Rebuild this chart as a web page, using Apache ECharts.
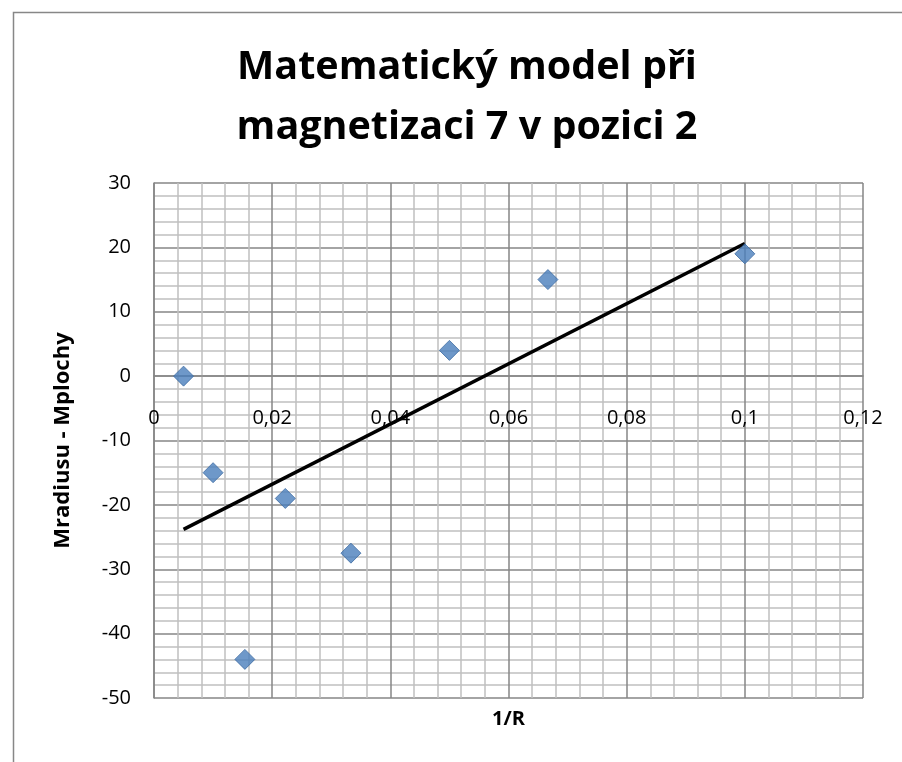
<!DOCTYPE html>
<html><head><meta charset="utf-8">
<script src="https://cdn.jsdelivr.net/npm/echarts@6/dist/echarts.min.js"></script>
<style>html,body{margin:0;padding:0;background:#fff}#c{width:902px;height:762px}</style>
</head><body><div id="c"></div>
<script>
const titleText = 'Matematický model při\nmagnetizaci 7 v pozici 2';
const xAxisName = '1/R';
const yAxisName = 'Mradiusu - Mplochy';
const xValues = [0.005, 0.01, 0.01538, 0.02222, 0.03333, 0.05, 0.06667, 0.1];
const yValues = [0, -15, -44, -19, -27.5, 4, 15, 19];
const trendX = [0.005, 0.1];
const trendY = [-23.8, 20.6];

const chart = echarts.init(document.getElementById('c'), null, {renderer: 'canvas'});
const font = '"Open Sans", "Noto Sans", sans-serif';
// zero line of y axis sits 50 of 80 units above the plot bottom (plot height 515px)
const zeroOffset = -515 * 50 / 80;
chart.setOption({
  animation: false,
  backgroundColor: '#fff',
  title: {
    text: titleText, left: 462, top: 33, textAlign: 'center',
    textStyle: {fontFamily: font, fontWeight: 'bold', fontSize: 39.5, lineHeight: 60, color: '#000', align: 'center'}
  },
  graphic: [{type: 'rect', shape: {x: 13.5, y: 12.5, width: 1000, height: 1000},
    style: {fill: null, stroke: '#878787', lineWidth: 1.5}, silent: true}],
  grid: {left: 154, top: 183, right: 39, bottom: 64, containLabel: false, outerBoundsMode: 'none'},
  xAxis: {
    type: 'value', min: 0, max: 0.12, interval: 0.02,
    offset: zeroOffset,
    name: xAxisName, nameLocation: 'middle', nameGap: 333,
    nameTextStyle: {fontFamily: font, fontWeight: 'bold', fontSize: 20, color: '#000', verticalAlign: 'top'},
    axisLine: {onZero: false, lineStyle: {color: '#868686', width: 1.5}},
    axisTick: {show: false},
    axisLabel: {fontFamily: font, fontSize: 20, color: '#000', margin: 32,
      formatter: v => String(+v.toFixed(2)).replace('.', ',')},
    splitLine: {show: true, lineStyle: {color: '#868686', width: 1.5}},
    minorTick: {show: false, splitNumber: 5},
    minorSplitLine: {show: true, lineStyle: {color: '#c0c0c0', width: 1.5}}
  },
  yAxis: {
    type: 'value', min: -50, max: 30, interval: 10,
    name: yAxisName, nameLocation: 'middle', nameGap: 80, nameRotate: 90,
    nameTextStyle: {fontFamily: font, fontWeight: 'bold', fontSize: 22, color: '#000'},
    axisLine: {show: true, onZero: false, lineStyle: {color: '#868686', width: 1.5}},
    axisTick: {show: false},
    axisLabel: {fontFamily: font, fontSize: 20, color: '#000', margin: 23},
    splitLine: {show: true, lineStyle: {color: '#868686', width: 1.5}},
    minorTick: {show: false, splitNumber: 5},
    minorSplitLine: {show: true, lineStyle: {color: '#c0c0c0', width: 1.5}}
  },
  series: [
    {type: 'line', data: trendX.map((x, i) => [x, trendY[i]]), symbol: 'none',
     lineStyle: {color: '#000', width: 3.5}, z: 3},
    {type: 'scatter', data: xValues.map((x, i) => [x, yValues[i]]), symbol: 'diamond', symbolSize: 20,
     itemStyle: {color: '#4a7ebb', borderColor: '#3d6ca3', borderWidth: 1}, z: 4}
  ]
});
</script></body></html>
